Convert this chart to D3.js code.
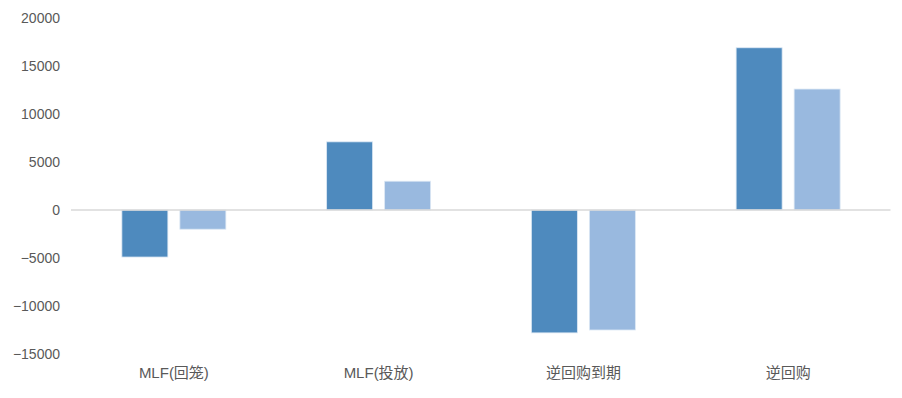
<!DOCTYPE html>
<html><head><meta charset="utf-8">
<script src="https://cdn.jsdelivr.net/npm/d3@7"></script>
<style>
html,body{margin:0;padding:0;background:#fff;}
text{font-family:"Liberation Sans","Noto Sans CJK SC",sans-serif;}
</style></head>
<body><svg id="c" width="902" height="398"></svg>
<script>
const categories = ["MLF(回笼)", "MLF(投放)", "逆回购到期", "逆回购"];
const seriesA = [-4900, 7100, -12800, 16900];
const seriesB = [-2000, 3000, -12500, 12600];
const yTicks = [-15000, -10000, -5000, 0, 5000, 10000, 15000, 20000];
const seriesColors = ["#4e8abe", "#99b9df"];

const svg = d3.select("#c");
const x = d3.scaleBand().domain(categories).range([71.5, 890.5]).paddingInner(0).paddingOuter(0);
const y = d3.scaleLinear().domain([-15000, 20000]).range([354, 18]);
const bw = x.bandwidth();
const inner = d3.scaleBand().domain([0,1]).range([bw/2 - 52, bw/2 + 52]).paddingInner(12/58).paddingOuter(0);

// y axis labels
const yAxis = d3.axisLeft(y).tickValues(yTicks).tickSize(0).tickPadding(0).tickFormat(d3.format("d"));
const ya = svg.append("g").attr("transform","translate(60,0)").call(yAxis);
ya.select(".domain").remove();
ya.selectAll("text").attr("fill","#595959").style("font-size","14px").attr("dy","0.35em");

const data = [seriesA, seriesB];
data.forEach((vals, si) => {
  svg.append("g").selectAll("rect").data(vals).join("rect")
    .attr("x", (d,i) => x(categories[i]) + inner(si))
    .attr("width", inner.bandwidth())
    .attr("y", d => Math.min(y(d), y(0)))
    .attr("height", d => Math.abs(y(d) - y(0)))
    .attr("fill", seriesColors[si])
    .attr("stroke", "#dde8f4").attr("stroke-width", 0.8);
});

// zero line
svg.append("line").attr("x1",71).attr("x2",890.5).attr("y1",y(0)).attr("y2",y(0))
  .attr("stroke","#d9d9d9").attr("stroke-width",1.5);

// x labels
const xAxis = d3.axisBottom(x).tickSize(0).tickPadding(0);
const xa = svg.append("g").attr("transform","translate(0,373)").call(xAxis);
xa.select(".domain").remove();
xa.selectAll("text").attr("fill","#595959").style("font-size","15px").attr("dy","0.35em");
</script></body></html>
